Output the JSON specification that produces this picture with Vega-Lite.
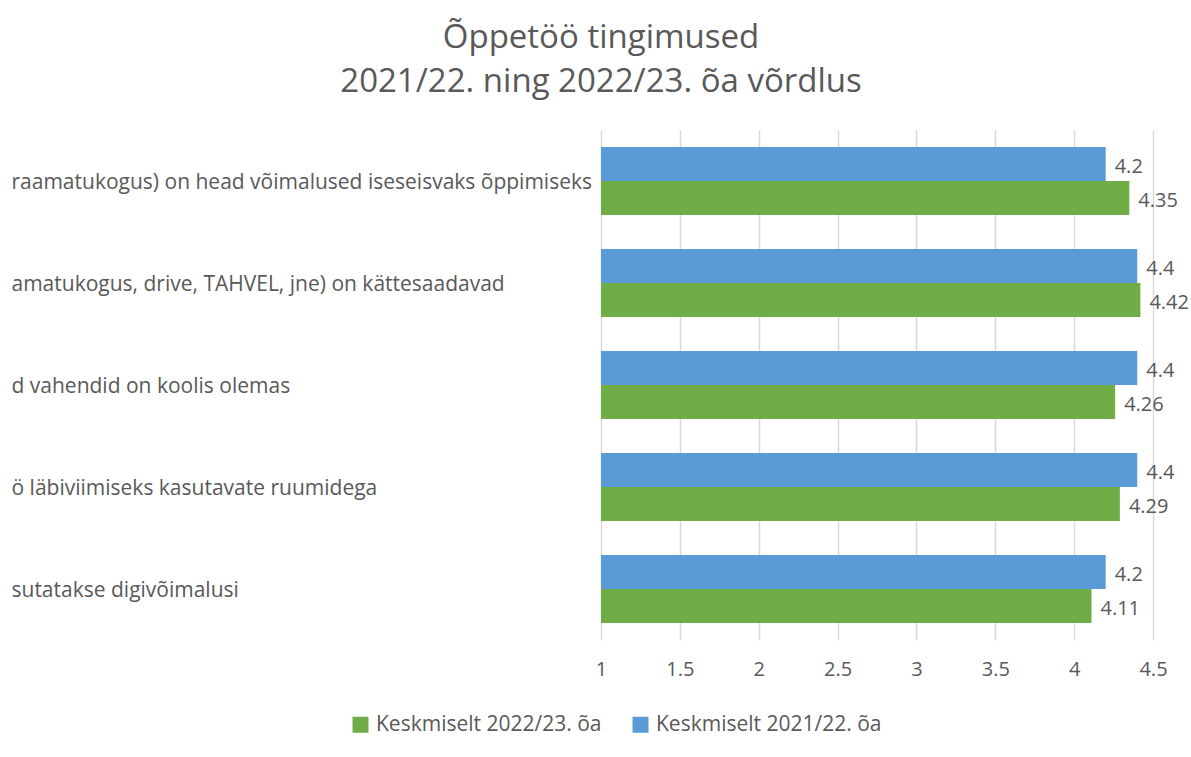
{
  "$schema": "https://vega.github.io/schema/vega-lite/v6.json",
  "width": 552,
  "height": 510,
  "autosize": {"type": "none"},
  "padding": {"left": 601, "top": 130, "right": 38, "bottom": 117},
  "background": "white",
  "config": {"view": {"stroke": null}},
  "title": {
    "text": ["Õppetöö tingimused", "2021/22. ning 2022/23. õa võrdlus"],
    "font": "Open Sans",
    "fontSize": 33,
    "fontWeight": "normal",
    "color": "#595959",
    "lineHeight": 44,
    "anchor": "middle",
    "dx": -276,
    "offset": 31
  },
  "data": {
    "values": [
      {"kategooria": "raamatukogus) on head võimalused iseseisvaks õppimiseks", "aasta": "Keskmiselt 2021/22. õa", "vaartus": 4.2},
      {"kategooria": "raamatukogus) on head võimalused iseseisvaks õppimiseks", "aasta": "Keskmiselt 2022/23. õa", "vaartus": 4.35},
      {"kategooria": "amatukogus, drive, TAHVEL, jne) on kättesaadavad", "aasta": "Keskmiselt 2021/22. õa", "vaartus": 4.4},
      {"kategooria": "amatukogus, drive, TAHVEL, jne) on kättesaadavad", "aasta": "Keskmiselt 2022/23. õa", "vaartus": 4.42},
      {"kategooria": "d vahendid on koolis olemas", "aasta": "Keskmiselt 2021/22. õa", "vaartus": 4.4},
      {"kategooria": "d vahendid on koolis olemas", "aasta": "Keskmiselt 2022/23. õa", "vaartus": 4.26},
      {"kategooria": "ö läbiviimiseks kasutavate ruumidega", "aasta": "Keskmiselt 2021/22. õa", "vaartus": 4.4},
      {"kategooria": "ö läbiviimiseks kasutavate ruumidega", "aasta": "Keskmiselt 2022/23. õa", "vaartus": 4.29},
      {"kategooria": "sutatakse digivõimalusi", "aasta": "Keskmiselt 2021/22. õa", "vaartus": 4.2},
      {"kategooria": "sutatakse digivõimalusi", "aasta": "Keskmiselt 2022/23. õa", "vaartus": 4.11}
    ]
  },
  "encoding": {
    "y": {
      "field": "kategooria",
      "type": "nominal",
      "sort": null,
      "scale": {"paddingInner": 0.3333, "paddingOuter": 0.1667},
      "axis": {
        "title": null,
        "domain": false,
        "ticks": false,
        "grid": false,
        "labelAlign": "left",
        "labelPadding": 590,
        "labelLimit": 900,
        "labelOffset": 2,
        "labelFont": "Open Sans",
        "labelFontSize": 21,
        "labelColor": "#595959"
      }
    },
    "yOffset": {
      "field": "aasta",
      "type": "nominal",
      "sort": ["Keskmiselt 2021/22. õa", "Keskmiselt 2022/23. õa"],
      "scale": {"paddingInner": 0, "paddingOuter": 0}
    },
    "x": {
      "field": "vaartus",
      "type": "quantitative",
      "scale": {"domain": [1, 4.5], "nice": false, "zero": false},
      "axis": {
        "title": null,
        "domain": false,
        "ticks": false,
        "grid": true,
        "gridColor": "#d9d9d9",
        "gridWidth": 1.5,
        "values": [1, 1.5, 2, 2.5, 3, 3.5, 4, 4.5],
        "format": "~g",
        "labelFlush": false,
        "labelFont": "Open Sans",
        "labelFontSize": 20,
        "labelColor": "#595959",
        "labelPadding": 19
      }
    }
  },
  "layer": [
    {
      "mark": {"type": "bar"},
      "encoding": {
        "x2": {"datum": 1},
        "color": {
          "field": "aasta",
          "type": "nominal",
          "scale": {
            "domain": ["Keskmiselt 2022/23. õa", "Keskmiselt 2021/22. õa"],
            "range": ["#70AD47", "#5B9BD5"]
          },
          "legend": {
            "title": null,
            "orient": "none",
            "direction": "horizontal",
            "legendX": -251,
            "legendY": 584,
            "symbolType": "square",
            "symbolSize": 256,
            "symbolStrokeWidth": 0,
            "symbolOpacity": 1,
            "labelFont": "Open Sans",
            "labelFontSize": 21,
            "labelColor": "#595959",
            "labelOffset": 5,
            "labelLimit": 400,
            "columnPadding": 28
          }
        }
      }
    },
    {
      "mark": {"type": "text", "align": "left", "baseline": "middle", "dx": 9, "dy": 3, "font": "Open Sans", "fontSize": 20, "color": "#595959"},
      "encoding": {
        "text": {"field": "vaartus", "type": "quantitative", "format": "~g"}
      }
    }
  ]
}
